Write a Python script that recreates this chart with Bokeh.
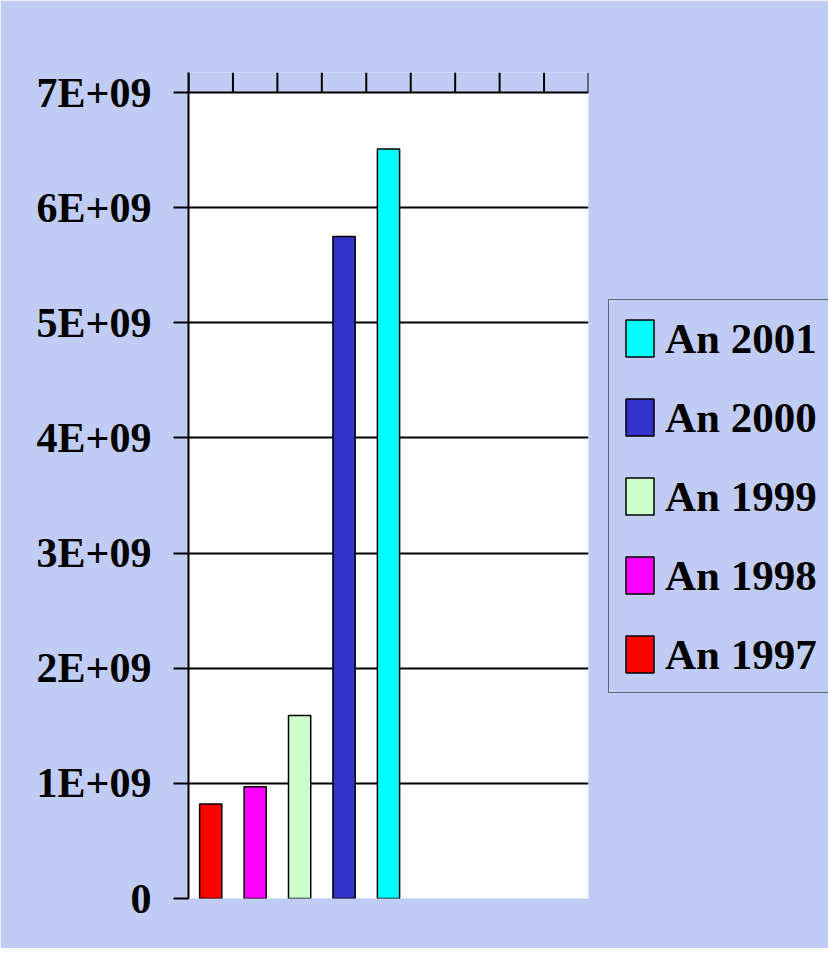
from bokeh.plotting import figure
from bokeh.models import ColumnDataSource, Range1d, FixedTicker, Legend, LegendItem
from bokeh.embed import file_html
from bokeh.resources import INLINE

# ---- data ----
years = ["An 1997", "An 1998", "An 1999", "An 2000", "An 2001"]
values = [0.82e9, 0.97e9, 1.59e9, 5.75e9, 6.51e9]
colors = ["#ff0000", "#ff00ff", "#ccffcc", "#3333cc", "#00ffff"]
n_slots = 9
tick_values = [0, 1000000000, 2000000000, 3000000000, 4000000000,
               5000000000, 6000000000, 7000000000]
tick_labels = ["0", "1E+09", "2E+09", "3E+09", "4E+09", "5E+09", "6E+09", "7E+09"]

BG = "#c0ccf4"
FONT = "Liberation Serif"

PLOT_H = 806      # height of the white plotting area (px)
TICK_PX = 20      # length of the category ticks above it (px)
ymax = tick_values[-1]
y_end = ymax * (PLOT_H + TICK_PX) / PLOT_H

src = ColumnDataSource(dict(
    x=[i + 0.5 for i in range(len(years))],
    top=values,
    color=colors,
    label=years,
))
cat_ticks = ColumnDataSource(dict(x=list(range(n_slots + 1))))

p = figure(frame_width=400, frame_height=PLOT_H + TICK_PX,
           min_border_left=188, min_border_right=224,
           min_border_top=72, min_border_bottom=50,
           x_range=Range1d(0, n_slots), y_range=Range1d(0, y_end),
           x_axis_location=None,
           output_backend="svg", toolbar_location=None)

p.background_fill_color = BG
p.border_fill_color = BG
p.outline_line_color = None

# white plotting area
p.quad(left=0, right=n_slots, bottom=0, top=ymax, fill_color="white",
       line_color=None, level="image")

# category tick marks above the plotting area
p.segment(x0="x", y0=ymax, x1="x", y1=y_end, source=cat_ticks,
          line_color="black", line_width=2)

r = p.vbar(x="x", top="top", width=0.5, bottom=0, source=src,
           fill_color="color", line_color="black", line_width=1.5)

# value axis
p.yaxis.ticker = FixedTicker(ticks=tick_values)
p.yaxis.major_label_overrides = dict(zip(tick_values, tick_labels))
p.yaxis.major_label_text_font = FONT
p.yaxis.major_label_text_font_style = "bold"
p.yaxis.major_label_text_font_size = "42px"
p.yaxis.major_label_text_color = "black"
p.yaxis.major_label_standoff = 22
p.yaxis.major_tick_out = 15
p.yaxis.major_tick_in = 0
p.yaxis.minor_tick_out = 0
p.yaxis.minor_tick_in = 0
p.yaxis.axis_line_color = "black"
p.yaxis.axis_line_width = 2
p.yaxis.major_tick_line_width = 2
p.yaxis.major_tick_line_color = "black"

p.xgrid.visible = False
p.ygrid.ticker = FixedTicker(ticks=tick_values)
p.ygrid.grid_line_color = "black"
p.ygrid.grid_line_width = 2
p.ygrid.grid_line_alpha = 1.0

items = [LegendItem(label=years[i], renderers=[r], index=i)
         for i in reversed(range(len(years)))]
legend = Legend(items=items, location=(20, 205),
                label_text_font=FONT, label_text_font_style="bold",
                label_text_font_size="43px", label_text_color="black",
                glyph_width=35, glyph_height=46, label_height=50,
                label_standoff=8, spacing=29, padding=13,
                border_line_color="black", border_line_width=1.5,
                background_fill_alpha=0.0)
p.add_layout(legend, "right")

open("out.html", "w").write(file_html(p, INLINE))
